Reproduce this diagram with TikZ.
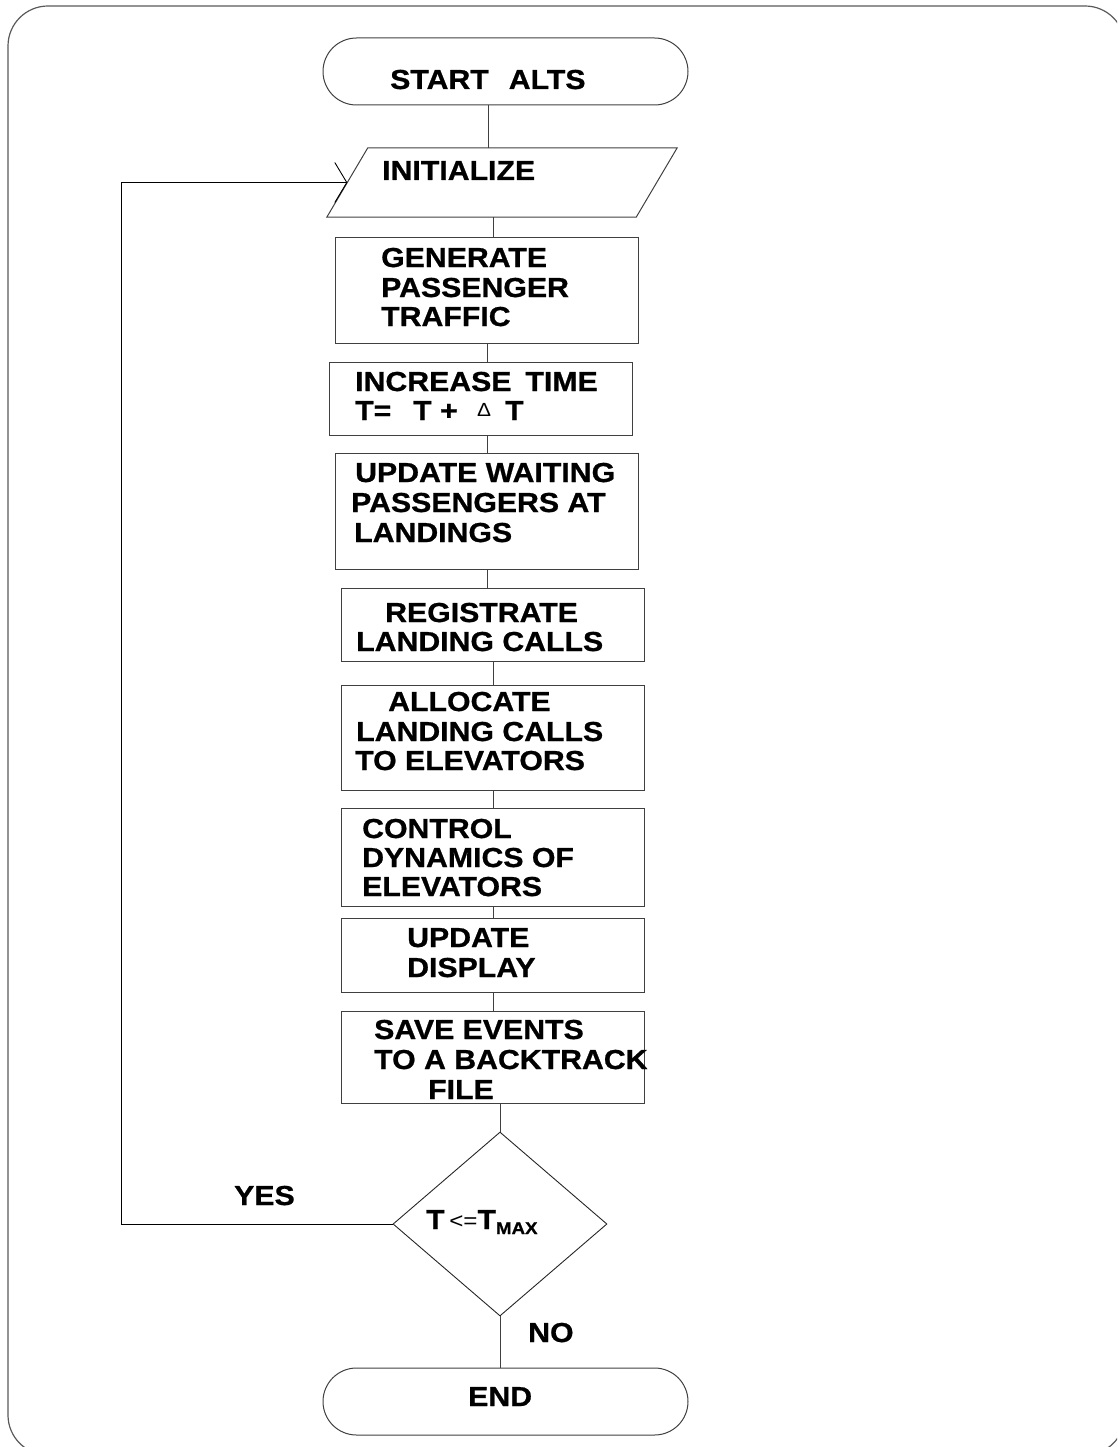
\documentclass[tikz,border=0pt]{standalone}
\usepackage{fontspec}
\setmainfont{Liberation Sans}[FakeStretch=1.10, BoldFeatures={FakeBold=0.8}]
\usetikzlibrary{shapes.geometric,shapes.misc,arrows.meta}
\begin{document}
\begin{tikzpicture}[x=1pt,y=-1pt,
  box/.style={draw=black!75, line width=1pt, rectangle, minimum width=303pt, inner sep=0pt},
  term/.style={draw=black!75, line width=1pt, rounded rectangle, inner sep=0pt},
  conn/.style={draw=black!75, line width=0.9pt},
  fb/.style={draw=black, line width=0.9pt, -{Straight Barb[length=12pt,width=40pt,line width=0.9pt]}},
  txt/.style={anchor=base west, inner sep=0pt, font=\fontsize{27.5}{30}\selectfont\bfseries},
]
\clip (0,0) rectangle (1117,1447);
\useasboundingbox (0,0) rectangle (1117,1447);
% outer frame
\draw[black!65, line width=1.2pt, rounded corners=40pt] (8,6) rectangle (1125,1455);

% shapes
\node[term, minimum width=365pt, minimum height=67pt] (start) at (505.5,71.5) {};
\node[rectangle, minimum width=350pt, minimum height=69pt, inner sep=0pt] (init) at (502,182.5) {};
\draw[black!75, line width=1pt] (init.south west) -- ([xshift=41pt]init.north west) -- (init.north east)
  -- ([xshift=-41pt]init.south east) -- cycle;
\node[box, minimum height=105pt] (gen)   at (486.5,290.5) {};
\node[box, minimum height=73pt]  (inc)   at (480.5,398.5) {};
\node[box, minimum height=116pt] (upd)   at (486.5,511) {};
\node[box, minimum height=73pt]  (reg)   at (492.5,624.5) {};
\node[box, minimum height=105pt] (alloc) at (492.5,737.5) {};
\node[box, minimum height=98pt]  (ctrl)  at (492.5,857) {};
\node[box, minimum height=74pt]  (disp)  at (492.5,955) {};
\node[box, minimum height=92pt]  (save)  at (492.5,1057) {};
\node[draw=black!85, line width=0.9pt, diamond, minimum width=214pt, minimum height=184pt, inner sep=0pt] (dec) at (500,1224) {};
\node[term, minimum width=365pt, minimum height=67pt] (end) at (505.5,1401.5) {};

% texts
\node[txt] (tstart) at (390,89) {START\hspace{20pt}ALTS};
\node[txt] (tinit) at (382,180) {INITIALIZE};
\node[txt] (tgen1) at (381,267) {GENERATE};
\node[txt] (tgen2) at (381,297) {PASSENGER};
\node[txt] (tgen3) at (381,326) {TRAFFIC};
\node[txt] (tinc1) at (355,391) {INCREASE\hspace{14pt}TIME};
\node[txt] (tinc2) at (355,420) {T=};
\node[txt] (tinc3) at (413,420) {T +};
\node[anchor=base west, inner sep=0pt, font=\fontsize{19}{19}\selectfont] (tinc4) at (477,416) {Δ};
\node[txt] (tinc5) at (505,420) {T};
\node[txt] (tupd1) at (355,482) {UPDATE WAITING};
\node[txt] (tupd2) at (351,512) {PASSENGERS AT};
\node[txt] (tupd3) at (354,542) {LANDINGS};
\node[txt] (treg1) at (385,622) {REGISTRATE};
\node[txt] (treg2) at (356,651) {LANDING CALLS};
\node[txt] (tall1) at (388,711) {ALLOCATE};
\node[txt] (tall2) at (356,741) {LANDING CALLS};
\node[txt] (tall3) at (355,770) {TO ELEVATORS};
\node[txt] (tctl1) at (362,838) {CONTROL};
\node[txt] (tctl2) at (362,867) {DYNAMICS OF};
\node[txt] (tctl3) at (362,896) {ELEVATORS};
\node[txt] (tdsp1) at (407,947) {UPDATE};
\node[txt] (tdsp2) at (407,977) {DISPLAY};
\node[txt] (tsav1) at (374,1039) {SAVE EVENTS};
\node[txt] (tsav2) at (374,1069) {TO A BACKTRACK};
\node[txt] (tsav3) at (428,1099) {FILE};
\node[txt] (tdec) at (426,1229) {T\,{\mdseries\fontsize{22}{22}\selectfont\raisebox{1pt}{<=}}T\raisebox{-5pt}{\fontsize{17}{17}\selectfont MAX}};
\node[txt] (tyes) at (234,1205) {YES};
\node[txt] (tno) at (528,1342) {NO};
\node[txt] (tend) at (468,1406) {END};

% connectors
\draw[conn] (start.south -| 488,0) -- (init.north -| 488,0);
\draw[conn] (init.south -| 493,0) -- (gen.north -| 493,0);
\draw[conn] (gen.south -| 487,0) -- (inc.north -| 487,0);
\draw[conn] (inc.south -| 487,0) -- (upd.north -| 487,0);
\draw[conn] (upd.south -| 487,0) -- (reg.north -| 487,0);
\draw[conn] (reg.south -| 493,0) -- (alloc.north -| 493,0);
\draw[conn] (alloc.south -| 493,0) -- (ctrl.north -| 493,0);
\draw[conn] (ctrl.south -| 493,0) -- (disp.north -| 493,0);
\draw[conn] (disp.south -| 493,0) -- (save.north -| 493,0);
\draw[conn] (save.south -| dec.north) -- (dec.north);
\draw[conn] (dec.south) -- (end.north -| dec.south);
\draw[fb] (dec.west) -- ++(-271,0) |- ([xshift=20.5pt]init.west);
\end{tikzpicture}
\end{document}
